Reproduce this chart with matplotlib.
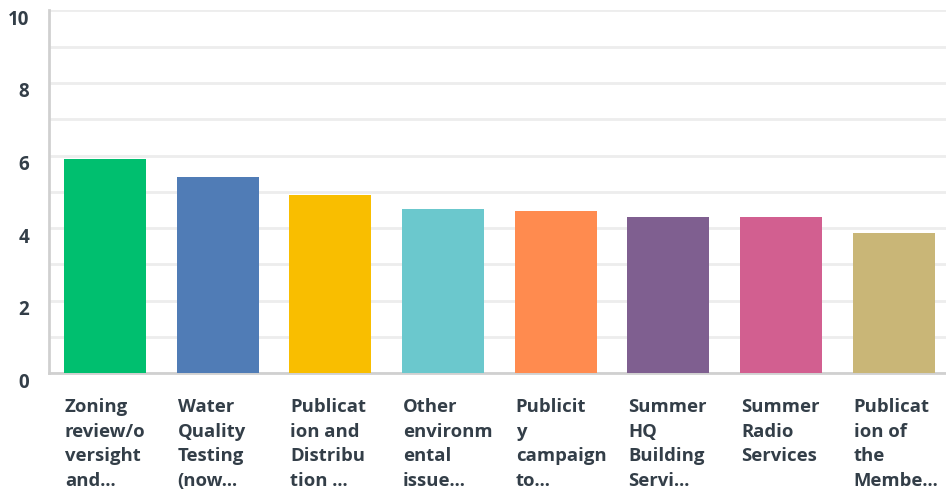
import matplotlib
matplotlib.use("Agg")
import matplotlib.pyplot as plt
from matplotlib.transforms import ScaledTranslation

categories = [
    "Zoning\nreview/o\nversight\nand...",
    "Water\nQuality\nTesting\n(now...",
    "Publicat\nion and\nDistribu\ntion ...",
    "Other\nenvironm\nental\nissue...",
    "Publicit\ny\ncampaign\nto...",
    "Summer\nHQ\nBuilding\nServi...",
    "Summer\nRadio\nServices",
    "Publicat\nion of\nthe\nMembe...",
]
values = [5.89, 5.41, 4.91, 4.53, 4.47, 4.31, 4.31, 3.87]
colors = ["#00bf6f", "#507cb6", "#f9be00", "#6bc8cd",
          "#ff8b4f", "#7f5f90", "#d25f90", "#c9b677"]
yticks = [0, 2, 4, 6, 8, 10]

W, H = 946, 491
fig = plt.figure(figsize=(W / 100, H / 100), dpi=100)
ax = fig.add_axes([48.5 / W, 1 - 373.3 / H, 901.6 / W, (373.3 - 10.3) / H])

x = list(range(len(values)))
ax.bar(x, values, width=0.728, color=colors, zorder=3)
ax.set_xlim(-0.5, len(values) - 0.5)
ax.set_ylim(0, 10)

ax.set_yticks(yticks)
ax.set_yticks(range(0, 11), minor=True)
ax.grid(axis="y", which="minor", color="#ededed", linewidth=2, zorder=0)
ax.grid(axis="y", which="major", color="#ededed", linewidth=2, zorder=0)
ax.set_yticklabels([str(t) for t in yticks], fontsize=13.5, fontweight="bold",
                   color="#333e48", fontfamily="Open Sans")
ax.tick_params(axis="y", which="both", length=0, pad=14)
for lab in ax.get_yticklabels():
    lab.set_transform(lab.get_transform() + ScaledTranslation(0, -7 / 100, fig.dpi_scale_trans))

ax.set_xticks([])
for s in ["top", "right"]:
    ax.spines[s].set_visible(False)
for s in ["left", "bottom"]:
    ax.spines[s].set_color("#d0d0d0")
    ax.spines[s].set_linewidth(2)

for i, lab in enumerate(categories):
    ax.text(i - 0.364 + 0.01, -0.068, lab, transform=ax.get_xaxis_transform(),
            ha="left", va="top", fontsize=13.3, fontweight="bold",
            color="#333e48", fontfamily="Open Sans", linespacing=1.48)

fig.savefig("out.png", dpi=100)
